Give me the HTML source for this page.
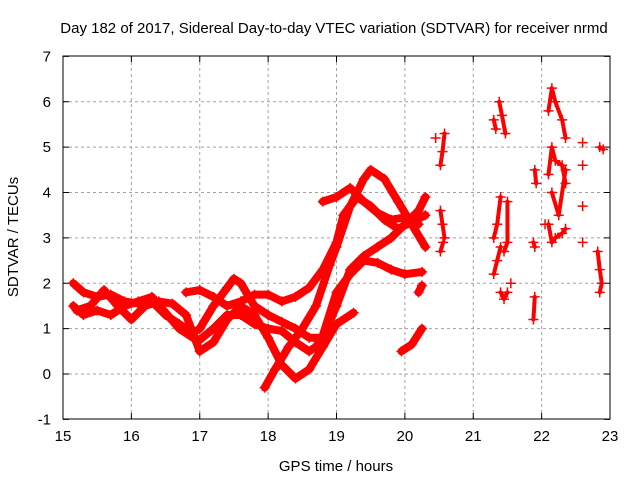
<!DOCTYPE html>
<html><head><meta charset="utf-8"><style>
body{margin:0;background:#fff}
svg{display:block;font-family:"Liberation Sans",sans-serif}
</style></head><body>
<svg id="chart" width="640" height="480" viewBox="0 0 640 480" xmlns="http://www.w3.org/2000/svg">
<rect width="640" height="480" fill="#fff"/>
<text x="334" y="33" font-size="15" text-anchor="middle">Day 182 of 2017, Sidereal Day-to-day VTEC variation (SDTVAR) for receiver nrmd</text>
<text x="336" y="471" font-size="15" text-anchor="middle">GPS time / hours</text>
<text transform="translate(18,237) rotate(-90)" font-size="15" text-anchor="middle">SDTVAR / TECUs</text>
<g id="grid"></g><g id="ticks"></g><g id="marks"></g>
<rect x="63" y="56" width="547" height="363" fill="none" stroke="#000" stroke-width="1"/>
</svg>
<script>
const xTicks=[15,16,17,18,19,20,21,22,23];
const yTicks=[-1,0,1,2,3,4,5,6,7];
const trackA=[[15.15,1.5],[15.3,1.3],[15.5,1.4],[15.7,1.3],[15.9,1.5],[16.1,1.6],[16.3,1.7],[16.5,1.35],[16.7,1.0],[16.9,0.8],[17.0,0.75],[17.2,1.0],[17.4,1.3],[17.6,1.3],[17.8,1.1],[18.0,1.0],[18.2,0.95],[18.4,0.7],[18.6,0.5],[18.7,0.6],[18.8,0.85],[19.0,1.8],[19.2,2.2],[19.4,2.5],[19.6,2.45],[19.8,2.3],[20.0,2.2],[20.25,2.25]];
const trackB=[[15.15,2.0],[15.3,1.8],[15.5,1.7],[15.7,1.75],[15.9,1.6],[16.1,1.55],[16.3,1.6],[16.5,1.3],[16.7,1.1],[16.9,0.9],[17.0,1.0],[17.2,1.5],[17.4,1.9],[17.5,2.1],[17.6,2.0],[17.8,1.5],[18.0,1.3],[18.2,1.15],[18.4,1.0],[18.6,0.8],[18.8,0.8],[19.0,1.5],[19.2,2.3],[19.4,2.6],[19.6,2.8],[19.8,3.0],[20.0,3.3],[20.2,3.6],[20.3,3.9]];
const trackC=[[15.2,1.4],[15.4,1.5],[15.6,1.85],[15.8,1.5],[16.0,1.2],[16.2,1.5],[16.4,1.6],[16.6,1.55],[16.8,1.3],[17.0,0.5],[17.2,0.7],[17.4,1.2],[17.6,1.5],[17.8,1.3],[18.0,0.8],[18.2,0.2],[18.4,-0.1],[18.6,0.1],[18.8,0.6],[19.0,1.1],[19.25,1.35]];
const trackD=[[16.8,1.8],[17.0,1.85],[17.2,1.7],[17.4,1.5],[17.6,1.6],[17.8,1.75],[18.0,1.75],[18.2,1.6],[18.4,1.7],[18.6,1.9],[18.8,2.3],[19.0,2.9],[19.1,3.5],[19.3,3.9],[19.5,3.7],[19.7,3.4],[19.9,3.2],[20.1,3.35],[20.3,3.5]];
const trackE=[[17.95,-0.3],[18.1,0.1],[18.3,0.6],[18.5,1.0],[18.7,1.5],[18.9,2.4],[19.0,2.8],[19.2,3.7],[19.4,4.3],[19.5,4.5],[19.7,4.3],[19.9,3.8],[20.1,3.3],[20.3,2.8]];
const trackF=[[18.8,3.8],[19.0,3.9],[19.2,4.1],[19.4,3.8],[19.6,3.55],[19.8,3.4],[20.0,3.45],[20.2,3.3]];
const trackG=[[19.95,0.5],[20.1,0.65],[20.25,1.0]];
const trackH=[[20.2,1.8],[20.25,1.95]];
const shortTracks=[
 [[20.52,4.6],[20.55,4.9],[20.58,5.3]],[[20.52,3.6],[20.55,3.3],[20.58,3.0]],[[20.52,2.7],[20.56,2.9]],
 [[21.3,5.6],[21.33,5.4]],[[21.38,6.0],[21.42,5.7],[21.47,5.3]],[[21.3,3.0],[21.35,3.3],[21.4,3.9]],
 [[21.3,2.2],[21.35,2.5],[21.4,2.8]],[[21.4,1.8],[21.45,1.65],[21.5,1.8]],[[21.45,2.7],[21.5,2.9],[21.5,3.8]],
 [[21.9,4.5],[21.92,4.2]],[[21.88,2.9],[21.9,2.8]],[[21.88,1.2],[21.9,1.7]],
 [[22.1,5.8],[22.15,6.3],[22.2,6.0],[22.3,5.6],[22.35,5.2]],[[22.1,4.4],[22.15,5.0],[22.2,4.7],[22.3,4.6],[22.35,4.2]],
 [[22.1,3.3],[22.15,2.9],[22.2,3.0],[22.3,3.1],[22.35,3.2]],[[22.15,4.0],[22.25,3.5],[22.35,4.5]],
 [[22.85,5.0],[22.9,4.95]],[[22.82,2.7],[22.85,2.3],[22.88,2.0],[22.85,1.8]]
];
const scatterPts=[[22.6,5.1],[22.6,4.6],[22.6,3.7],[22.6,2.9],[21.55,2.0],[20.45,5.2],[22.05,3.3]];
const NS="http://www.w3.org/2000/svg";
const X=t=>63+(t-15)*(547/8);
const Y=v=>374-v*(363/8);
const grid=document.getElementById('grid'),ticks=document.getElementById('ticks'),marks=document.getElementById('marks');
function mk(tag,attrs,parent){const e=document.createElementNS(NS,tag);for(const k in attrs)e.setAttribute(k,attrs[k]);parent.appendChild(e);return e;}
xTicks.forEach(t=>{
 if(t>15&&t<23){const g=mk('line',{x1:X(t),x2:X(t),y1:56,y2:419,stroke:'#a0a0a0','stroke-dasharray':'3,3'},grid);
 
 }
 const l=mk('text',{x:X(t),y:441,'font-size':15,'text-anchor':'middle'},ticks);l.textContent=t;
 
 
 mk('line',{x1:X(t),x2:X(t),y1:419,y2:413,stroke:'#000'},ticks);
 mk('line',{x1:X(t),x2:X(t),y1:56,y2:62,stroke:'#000'},ticks);
});
yTicks.forEach(v=>{
 if(v>-1&&v<7){const g=mk('line',{x1:63,x2:610,y1:Y(v),y2:Y(v),stroke:'#a0a0a0','stroke-dasharray':'3,3'},grid);
 
 }
 const l=mk('text',{x:51,y:Y(v)+5,'font-size':15,'text-anchor':'end'},ticks);l.textContent=v;
 
 
 mk('line',{x1:63,x2:69,y1:Y(v),y2:Y(v),stroke:'#000'},ticks);
 mk('line',{x1:610,x2:604,y1:Y(v),y2:Y(v),stroke:'#000'},ticks);
});
function plus(t,v){const p=mk('path',{d:`M${X(t)-5},${Y(v)}h10M${X(t)},${Y(v)-5}v10`,stroke:'#f00','stroke-width':1.5,fill:'none'},marks);
 
 }
function track(arr,w){
 const pl=mk('polyline',{points:arr.map(p=>X(p[0])+','+Y(p[1])).join(' '),stroke:'#f00','stroke-width':w,fill:'none','stroke-linejoin':'round','stroke-linecap':'round'},marks);
 
 
 arr.forEach(p=>plus(p[0],p[1]));
}
[trackA,trackB,trackC,trackD,trackE,trackF,trackG,trackH].forEach(a=>track(a,8));
shortTracks.forEach(a=>track(a,4));
scatterPts.forEach(p=>plus(p[0],p[1]));
</script>
</body></html>
